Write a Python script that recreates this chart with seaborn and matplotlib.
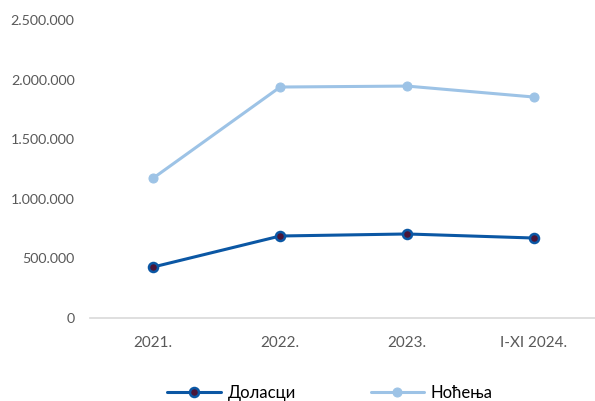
import matplotlib
matplotlib.use("Agg")
import matplotlib.pyplot as plt
import seaborn as sns
import pandas as pd
from matplotlib.ticker import FuncFormatter

categories = ["2021.", "2022.", "2023.", "I-XI 2024."]
dolasci = [428000, 688000, 705000, 671000]
nocenja = [1174000, 1938000, 1946000, 1854000]
series_names = ["Доласци", "Ноћења"]

sns.set_theme(style="white")
plt.rcParams['font.family'] = ['Lato', 'DejaVu Sans']

df = pd.DataFrame({
    "cat": categories * 2,
    "x": list(range(len(categories))) * 2,
    "val": dolasci + nocenja,
    "series": [series_names[0]] * len(categories) + [series_names[1]] * len(categories),
})

fig = plt.figure(figsize=(5.95, 4.01), dpi=100)
ax = fig.add_axes([0.151, 0.207, 0.853, 0.743])

dark = "#0B57A4"
light = "#9DC3E6"

sns.lineplot(data=df[df.series == series_names[0]], x="x", y="val", ax=ax,
             color=dark, linewidth=2.2, marker="o", markersize=6.5,
             markerfacecolor="#4A1538", markeredgecolor=dark, markeredgewidth=1.8,
             label=series_names[0])
sns.lineplot(data=df[df.series == series_names[1]], x="x", y="val", ax=ax,
             color=light, linewidth=2.2, marker="o", markersize=6.5,
             markerfacecolor=light, markeredgecolor=light,
             label=series_names[1])

ax.set_xlim(-0.5, len(categories) - 0.5)
ax.set_ylim(0, 2500000)
ax.set_yticks([0, 500000, 1000000, 1500000, 2000000, 2500000])
ax.yaxis.set_major_formatter(FuncFormatter(lambda v, p: f"{int(v):,}".replace(",", ".")))
ax.set_xticks(range(len(categories)))
ax.set_xticklabels(categories)
ax.set_xlabel("")
ax.set_ylabel("")
for s in ["top", "right", "left"]:
    ax.spines[s].set_visible(False)
ax.spines["bottom"].set_color("#D9D9D9")
ax.spines["bottom"].set_linewidth(1.2)
ax.tick_params(axis="both", length=0, labelcolor="#595959")
ax.tick_params(axis="y", pad=11, labelsize=10.3)
ax.tick_params(axis="x", pad=13, labelsize=11)
ax.grid(False)

handles, labels = ax.get_legend_handles_labels()
ax.get_legend().remove()
leg = fig.legend(handles, labels, loc="center", bbox_to_anchor=(330 / 595, 1 - 393 / 401),
                 ncol=2, frameon=False, fontsize=12, handlelength=3.2,
                 columnspacing=4.5, handletextpad=0.4)
for t in leg.get_texts():
    t.set_color("#000000")

fig.savefig("out.png", dpi=100)
